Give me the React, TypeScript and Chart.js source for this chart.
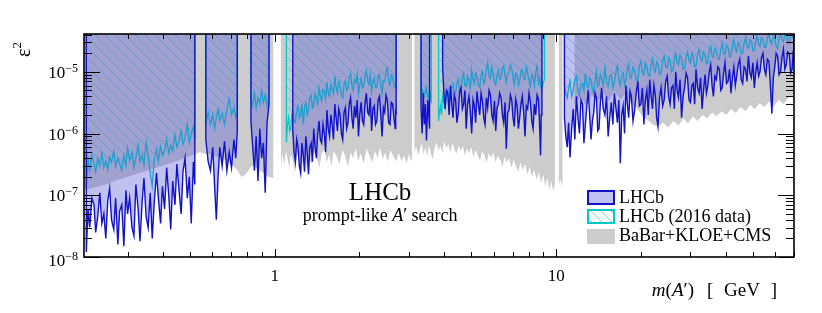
import React, { useEffect, useRef } from 'react';
import { Chart, registerables } from 'chart.js';

Chart.register(...registerables);

// ---------- axis ranges & ticks ----------
const X_MIN = 0.21;
const X_MAX = 70;
const Y_MIN = 1e-8;
const Y_MAX = 4.1e-5;
const X_MAJOR = [1, 10];
const X_MAJOR_LABELS = ['1', '10'];
const Y_MAJOR = [1e-8, 1e-7, 1e-6, 1e-5];
const Y_MAJOR_EXP = ['\u22128', '\u22127', '\u22126', '\u22125'];
const LEGEND_LABELS = ['LHCb', 'LHCb (2016 data)', 'BaBar+KLOE+CMS'];

// values below: [mass (GeV), epsilon^2 in units of 1e-7]
const UNIT = 1e-7;
const EDGE = 410; // top of the plot (4.1e-5)
type Pt = [number, number | null];

// ---------- LHCb (this result) ----------
const lhcbSegments: Pt[][] = [
  [[0.214, EDGE], [0.214, 0.12], [0.217, 0.6], [0.22, 0.3], [0.224, 0.9], [0.228, 0.7], [0.231, 0.25], [0.235, 0.45], [0.239, 1.1], [0.243, 0.35], [0.247, 0.5], [0.251, 0.2], [0.255, 0.8], [0.259, 1.3], [0.263, 0.4], [0.268, 0.28], [0.272, 0.9], [0.277, 0.16], [0.281, 0.55], [0.286, 0.7], [0.291, 0.15], [0.296, 1.2], [0.3, 0.5], [0.305, 0.9], [0.311, 0.3], [0.316, 0.22], [0.321, 1.5], [0.327, 0.6], [0.332, 0.18], [0.338, 0.8], [0.343, 1.9], [0.349, 0.45], [0.355, 0.3], [0.361, 1.1], [0.367, 0.2], [0.373, 0.75], [0.38, 2.3], [0.386, 0.9], [0.393, 0.35], [0.399, 1.4], [0.406, 0.6], [0.413, 2.8], [0.42, 1.0], [0.427, 0.28], [0.434, 1.7], [0.442, 0.7], [0.449, 3.2], [0.457, 1.2], [0.465, 0.5], [0.472, 2.4], [0.48, 4.0], [0.489, 0.9], [0.497, 2.0], [0.505, 0.35], [0.514, 3.5], [0.52, 1.5], [0.52, EDGE]],
  [[0.569, EDGE], [0.569, 8.0], [0.58, 3.5], [0.591, 2.5], [0.602, 6.0], [0.611, 1.5], [0.62, 0.4], [0.629, 2.0], [0.638, 6.0], [0.65, 3.0], [0.663, 7.5], [0.676, 2.5], [0.689, 5.0], [0.702, 2.8], [0.716, 8.0], [0.727, 4.0], [0.736, 11.0], [0.736, EDGE]],
  [[0.823, EDGE], [0.823, 16], [0.835, 6], [0.847, 2.5], [0.859, 9], [0.872, 1.7], [0.885, 12], [0.898, 4], [0.911, 7], [0.925, 1.1], [0.939, 15], [0.954, 30], [0.954, EDGE]],
  [[1.159, EDGE], [1.159, 11], [1.171, 5], [1.184, 3.5], [1.197, 8], [1.21, 6], [1.223, 3], [1.236, 2.3], [1.249, 7], [1.263, 4.5], [1.276, 2.4], [1.29, 9], [1.304, 5], [1.318, 2.2], [1.332, 6], [1.347, 7], [1.361, 3.5], [1.376, 12], [1.391, 6], [1.406, 4], [1.421, 10], [1.437, 16], [1.452, 8], [1.468, 7], [1.484, 14], [1.5, 10], [1.516, 5], [1.533, 24], [1.549, 12], [1.566, 9], [1.583, 20], [1.6, 14], [1.617, 8], [1.635, 30], [1.652, 18], [1.67, 11], [1.688, 25], [1.707, 20], [1.725, 10], [1.744, 8], [1.763, 22], [1.782, 26], [1.801, 12], [1.821, 15], [1.84, 30], [1.86, 38], [1.88, 18], [1.9, 12], [1.921, 28], [1.942, 18], [1.963, 35], [1.984, 9], [2.005, 20], [2.027, 32], [2.049, 16], [2.071, 14], [2.093, 30], [2.116, 45], [2.139, 22], [2.162, 20], [2.185, 38], [2.209, 11], [2.233, 25], [2.257, 28], [2.281, 14], [2.306, 16], [2.331, 35], [2.356, 40], [2.381, 20], [2.407, 9], [2.433, 26], [2.459, 22], [2.485, 42], [2.512, 35], [2.539, 15], [2.567, 14], [2.595, 32], [2.623, 30], [2.651, 18], [2.68, 12], [2.69, 25], [2.7, 20], [2.7, EDGE]],
  [[3.31, EDGE], [3.31, 27], [3.34, 10], [3.37, 45], [3.4, 14], [3.43, 30], [3.46, 7.7], [3.5, 35], [3.55, 12], [3.55, EDGE]],
  [[3.95, EDGE], [3.95, 120], [3.99, 45], [4.03, 25], [4.075, 50], [4.12, 45], [4.165, 20], [4.21, 60], [4.255, 30], [4.3, 18], [4.345, 42], [4.39, 35], [4.44, 15], [4.49, 22], [4.54, 48], [4.59, 55], [4.64, 25], [4.69, 30], [4.74, 50], [4.79, 12], [4.845, 30], [4.9, 40], [4.955, 22], [5.01, 10], [5.065, 35], [5.12, 28], [5.175, 15], [5.23, 48], [5.29, 30], [5.35, 20], [5.41, 45], [5.47, 33], [5.53, 18], [5.59, 14], [5.65, 38], [5.71, 26], [5.775, 50], [5.84, 42], [5.905, 20], [5.97, 16], [6.035, 34], [6.1, 11], [6.165, 26], [6.23, 30], [6.3, 45], [6.37, 38], [6.44, 20], [6.51, 15], [6.58, 32], [6.65, 5.7], [6.725, 22], [6.8, 24], [6.875, 42], [6.95, 35], [7.025, 18], [7.1, 13], [7.18, 36], [7.26, 28], [7.34, 12], [7.42, 18], [7.5, 30], [7.58, 40], [7.665, 22], [7.75, 9], [7.835, 28], [7.92, 25], [8.01, 45], [8.1, 32], [8.19, 16], [8.28, 12], [8.37, 30], [8.46, 20], [8.555, 42], [8.65, 36], [8.725, 15], [8.8, 4.4], [8.85, 20], [8.9, 28], [8.9, EDGE]],
  [[10.7, EDGE], [10.7, 18], [10.82, 9], [10.95, 6], [11.07, 15], [11.2, 4.1], [11.35, 12], [11.5, 25], [11.65, 8], [11.8, 40], [11.95, 18], [12.1, 10], [12.25, 35], [12.4, 30], [12.55, 7], [12.7, 14], [12.85, 28], [13.0, 50], [13.15, 20], [13.3, 8], [13.45, 16], [13.6, 22], [13.75, 45], [13.9, 38], [14.05, 11], [14.2, 12], [14.35, 30], [14.5, 55], [14.7, 25], [14.9, 20], [15.1, 40], [15.3, 9], [15.5, 18], [15.7, 32], [15.9, 14], [16.1, 45], [16.3, 26], [16.5, 15], [16.7, 35], [16.9, 3.3], [17.1, 20], [17.3, 28], [17.5, 10], [17.7, 60], [17.9, 30], [18.1, 18], [18.3, 48], [18.5, 40], [18.75, 16], [19.0, 24], [19.25, 45], [19.5, 70], [19.75, 28], [20.0, 30], [20.25, 55], [20.5, 14], [20.75, 35], [21.0, 50], [21.25, 20], [21.5, 75], [21.75, 40], [22.0, 25], [22.25, 60], [22.5, 42], [22.75, 18], [23.0, 13], [23.3, 38], [23.6, 55], [23.9, 28], [24.2, 35], [24.5, 70], [24.8, 85], [25.1, 40], [25.4, 30], [25.7, 55], [26.0, 60], [26.3, 25], [26.6, 100], [26.9, 50], [27.2, 38], [27.55, 75], [27.9, 18], [28.25, 40], [28.6, 55], [28.95, 95], [29.3, 80], [29.65, 35], [30.0, 32], [30.35, 60], [30.7, 65], [31.05, 30], [31.4, 110], [31.8, 55], [32.2, 45], [32.6, 80], [33.0, 25], [33.4, 50], [33.8, 90], [34.2, 45], [34.6, 60], [35.0, 100], [35.4, 130], [35.8, 60], [36.2, 40], [36.65, 85], [37.1, 75], [37.55, 120], [38.0, 110], [38.45, 50], [38.9, 55], [39.35, 95], [39.8, 140], [40.3, 65], [40.8, 70], [41.3, 110], [41.8, 45], [42.3, 80], [42.8, 120], [43.3, 60], [43.8, 85], [44.35, 130], [44.9, 160], [45.45, 75], [46.0, 65], [46.55, 120], [47.1, 110], [47.65, 70], [48.2, 180], [48.8, 95], [49.4, 80], [50.0, 140], [50.6, 55], [51.2, 100], [51.8, 140], [52.4, 85], [53.0, 100], [53.65, 170], [54.3, 200], [54.95, 110], [55.6, 90], [56.3, 160], [57.0, 150], [57.7, 60], [58.4, 21], [59.1, 80], [59.8, 120], [60.5, 200], [61.2, 180], [61.95, 90], [62.7, 100], [63.45, 170], [64.2, 230], [64.95, 110], [65.7, 130], [66.5, 210], [67.3, 200], [68.1, 95], [68.9, 110], [69.45, 190], [70.0, 160], [70.0, EDGE]],
];

// ---------- LHCb (2016 data) ----------
const lhcb2016Segments: Pt[][] = [
  [[0.214, EDGE], [0.214, 1.3], [0.217, 3.8], [0.22, 2.5], [0.224, 4.5], [0.228, 3.2], [0.231, 2.4], [0.235, 3.9], [0.239, 3.0], [0.243, 4.8], [0.247, 2.8], [0.251, 3.6], [0.255, 2.6], [0.259, 4.2], [0.263, 3.4], [0.268, 5.2], [0.272, 2.9], [0.277, 4.0], [0.281, 3.3], [0.286, 2.5], [0.291, 4.4], [0.296, 3.0], [0.3, 5.8], [0.305, 3.6], [0.311, 4.9], [0.316, 2.8], [0.321, 4.0], [0.327, 6.5], [0.332, 3.5], [0.338, 4.5], [0.343, 3.1], [0.349, 7.2], [0.355, 4.2], [0.361, 2.3], [0.367, 1.4], [0.373, 3.8], [0.38, 5.5], [0.386, 3.6], [0.393, 6.2], [0.399, 4.4], [0.406, 5.3], [0.413, 8.0], [0.42, 4.8], [0.427, 6.5], [0.434, 5.2], [0.442, 9.5], [0.449, 6.0], [0.457, 7.5], [0.465, 11.0], [0.472, 6.8], [0.48, 8.5], [0.489, 14.0], [0.497, 7.0], [0.505, 10.0], [0.514, 13.0], [0.52, 8.0], [0.52, EDGE]],
  [[0.569, EDGE], [0.569, 15], [0.58, 22], [0.591, 14], [0.602, 20], [0.611, 12], [0.62, 18], [0.629, 25], [0.638, 16], [0.65, 21], [0.663, 14], [0.676, 24], [0.689, 37], [0.702, 20], [0.716, 26], [0.727, 18], [0.736, 22], [0.736, EDGE]],
  [[0.823, EDGE], [0.823, 35], [0.835, 28], [0.847, 45], [0.859, 26], [0.872, 38], [0.885, 30], [0.898, 50], [0.911, 32], [0.925, 42], [0.939, 28], [0.954, 40], [0.954, EDGE]],
  [[1.1, EDGE], [1.1, 7.2], [1.11, 14], [1.12, 18], [1.13, 11], [1.14, 12], [1.15, 20], [1.159, 22], [1.171, 16], [1.184, 15], [1.197, 24], [1.21, 28], [1.223, 18], [1.236, 20], [1.249, 30], [1.263, 14], [1.276, 26], [1.29, 32], [1.304, 20], [1.318, 24], [1.332, 38], [1.347, 42], [1.361, 26], [1.376, 28], [1.391, 45], [1.406, 36], [1.421, 30], [1.437, 55], [1.452, 40], [1.468, 34], [1.484, 52], [1.5, 48], [1.516, 36], [1.533, 68], [1.549, 45], [1.566, 40], [1.583, 62], [1.6, 52], [1.617, 44], [1.635, 85], [1.652, 55], [1.67, 46], [1.688, 70], [1.707, 60], [1.725, 42], [1.744, 38], [1.763, 62], [1.782, 72], [1.801, 50], [1.821, 55], [1.84, 80], [1.86, 95], [1.88, 60], [1.9, 50], [1.921, 75], [1.942, 66], [1.963, 90], [1.984, 44], [2.005, 62], [2.027, 78], [2.049, 55], [2.071, 58], [2.093, 85], [2.116, 105], [2.139, 70], [2.162, 62], [2.185, 90], [2.209, 48], [2.233, 68], [2.257, 80], [2.281, 55], [2.306, 56], [2.331, 85], [2.356, 90], [2.381, 62], [2.407, 45], [2.433, 72], [2.459, 70], [2.485, 100], [2.512, 115], [2.539, 70], [2.567, 60], [2.595, 90], [2.623, 82], [2.651, 60], [2.68, 55], [2.69, 75], [2.7, 65], [2.7, EDGE]],
  [[3.31, EDGE], [3.31, 35], [3.35, 50], [3.4, 40], [3.45, 56], [3.5, 38], [3.55, 48], [3.6, 31], [3.6, EDGE]],
  [[3.82, EDGE], [3.82, 16], [3.85, 22], [3.88, 28], [3.915, 20], [3.95, 40], [3.99, 32], [4.03, 26], [4.075, 42], [4.12, 50], [4.165, 34], [4.21, 38], [4.255, 55], [4.3, 62], [4.345, 44], [4.39, 45], [4.44, 65], [4.49, 75], [4.54, 50], [4.59, 52], [4.64, 80], [4.69, 95], [4.74, 60], [4.79, 58], [4.845, 85], [4.9, 70], [4.955, 55], [5.01, 110], [5.065, 75], [5.12, 64], [5.175, 95], [5.23, 85], [5.29, 60], [5.35, 56], [5.41, 90], [5.47, 100], [5.53, 65], [5.59, 72], [5.65, 110], [5.71, 140], [5.775, 85], [5.84, 78], [5.905, 120], [5.97, 92], [6.035, 70], [6.1, 62], [6.165, 90], [6.23, 105], [6.3, 75], [6.37, 80], [6.44, 115], [6.51, 125], [6.58, 85], [6.65, 68], [6.725, 95], [6.8, 98], [6.875, 130], [6.95, 115], [7.025, 80], [7.1, 62], [7.18, 95], [7.26, 88], [7.34, 60], [7.42, 70], [7.5, 105], [7.58, 110], [7.665, 78], [7.75, 75], [7.835, 120], [7.92, 96], [8.01, 70], [8.1, 58], [8.19, 90], [8.28, 84], [8.37, 60], [8.46, 100], [8.555, 125], [8.65, 66], [8.725, 80], [8.8, 60], [8.9, 52], [9.0, 68], [9.09, 75], [9.09, EDGE]],
  [[10.7, EDGE], [10.7, 60], [10.82, 45], [10.95, 38], [11.07, 55], [11.2, 70], [11.35, 40], [11.5, 50], [11.65, 75], [11.8, 85], [11.95, 48], [12.1, 42], [12.25, 62], [12.4, 65], [12.55, 50], [12.7, 95], [12.85, 60], [13.0, 55], [13.15, 80], [13.3, 75], [13.45, 52], [13.6, 45], [13.75, 70], [13.9, 100], [14.05, 58], [14.2, 62], [14.35, 90], [14.5, 80], [14.7, 60], [14.9, 115], [15.1, 70], [15.3, 58], [15.5, 85], [15.7, 90], [15.9, 55], [16.1, 68], [16.3, 100], [16.5, 125], [16.7, 72], [16.9, 60], [17.1, 88], [17.3, 95], [17.5, 62], [17.7, 75], [17.9, 110], [18.1, 135], [18.3, 78], [18.5, 80], [18.75, 120], [19.0, 105], [19.25, 75], [19.5, 70], [19.75, 125], [20.0, 150], [20.25, 95], [20.5, 90], [20.75, 140], [21.0, 120], [21.25, 88], [21.5, 85], [21.75, 130], [22.0, 165], [22.25, 110], [22.5, 100], [22.75, 145], [23.0, 130], [23.3, 90], [23.6, 95], [23.9, 150], [24.2, 180], [24.5, 120], [24.8, 115], [25.1, 170], [25.4, 150], [25.7, 100], [26.0, 105], [26.3, 160], [26.6, 200], [26.9, 140], [27.2, 130], [27.55, 190], [27.9, 165], [28.25, 110], [28.6, 115], [28.95, 175], [29.3, 210], [29.65, 150], [30.0, 140], [30.35, 200], [30.7, 175], [31.05, 120], [31.4, 125], [31.8, 190], [32.2, 230], [32.6, 165], [33.0, 150], [33.4, 210], [33.8, 190], [34.2, 135], [34.6, 140], [35.0, 220], [35.4, 260], [35.8, 180], [36.2, 170], [36.65, 240], [37.1, 220], [37.55, 160], [38.0, 160], [38.45, 230], [38.9, 290], [39.35, 200], [39.8, 190], [40.3, 270], [40.8, 250], [41.3, 175], [41.8, 180], [42.3, 260], [42.8, 330], [43.3, 230], [43.8, 210], [44.35, 300], [44.9, 270], [45.45, 195], [46.0, 200], [46.55, 290], [47.1, 360], [47.65, 260], [48.2, 240], [48.8, 330], [49.4, 310], [50.0, 220], [50.6, 220], [51.2, 320], [51.8, 390], [52.4, 280], [53.0, 260], [53.65, 360], [54.3, 340], [54.95, 250], [55.6, 250], [56.3, 350], [57.0, 410], [57.7, 300], [58.4, 280], [59.1, 380], [59.8, 360], [60.5, 260], [61.2, 240], [61.95, 350], [62.7, 420], [63.45, 330], [64.2, 310], [64.95, 400], [65.7, 390], [66.5, 300], [67.3, 290], [68.1, 380], [68.9, 410], [69.45, 350], [70.0, 340], [70.0, EDGE]],
];

// ---------- BaBar + KLOE + CMS (lower edge of excluded region) ----------
const otherLimits: Pt[] = [
  [0.21, 1.2], [0.23, 1.35], [0.25, 1.5], [0.27, 1.7], [0.3, 2.0], [0.33, 2.3], [0.36, 2.6], [0.4, 3.0], [0.44, 3.5], [0.48, 4.0], [0.52, 4.6], [0.54, 5.0], [0.56, 4.8], [0.58, 4.6], [0.6, 4.5], [0.63, 4.2], [0.66, 3.8], [0.7, 3.2], [0.74, 2.5], [0.76, 2.0], [0.78, 2.1], [0.8, 2.4], [0.83, 3.0], [0.86, 2.8], [0.89, 2.5], [0.92, 2.2], [0.95, 2.0], [0.99, 1.9], [1.0, null],
  [1.05, 2.6], [1.065, 4.8], [1.08, 3.0], [1.095, 5.2], [1.11, 4.0], [1.125, 2.8], [1.14, 4.6], [1.16, 3.6], [1.18, 2.3], [1.2, 4.4], [1.22, 5.0], [1.24, 2.2], [1.26, 3.8], [1.28, 4.6], [1.3, 2.6], [1.32, 4.2], [1.35, 3.2], [1.38, 5.0], [1.41, 4.0], [1.44, 2.8], [1.47, 4.8], [1.5, 5.5], [1.53, 3.4], [1.56, 4.6], [1.59, 3.0], [1.62, 5.2], [1.66, 4.2], [1.7, 3.2], [1.74, 5.4], [1.78, 4.4], [1.82, 2.9], [1.86, 5.0], [1.9, 4.0], [1.94, 5.8], [1.98, 3.6], [2.02, 4.8], [2.07, 3.3], [2.12, 5.6], [2.17, 4.4], [2.22, 3.4], [2.27, 5.2], [2.32, 4.0], [2.37, 6.0], [2.42, 3.8], [2.47, 5.0], [2.52, 3.5], [2.58, 5.4], [2.64, 4.2], [2.7, 3.6], [2.76, 4.8], [2.82, 3.6], [2.88, 4.4], [2.94, 3.3], [3.0, 4.6], [3.05, 3.6], [3.08, 4.0], [3.095, null],
  [3.13, 4.8], [3.18, 6.2], [3.23, 4.4], [3.28, 5.6], [3.33, 7.0], [3.38, 4.6], [3.43, 6.0], [3.48, 4.2], [3.53, 6.6], [3.58, 5.0], [3.64, 3.8], [3.7, 5.8], [3.76, 7.2], [3.82, 5.2], [3.88, 6.4], [3.94, 4.8], [4.0, 7.6], [4.07, 5.8], [4.14, 6.8], [4.21, 5.0], [4.28, 7.0], [4.35, 5.6], [4.42, 4.6], [4.5, 6.4], [4.58, 5.2], [4.66, 6.2], [4.74, 4.4], [4.82, 5.8], [4.9, 4.8], [4.99, 6.0], [5.08, 4.2], [5.17, 5.4], [5.26, 4.6], [5.36, 3.6], [5.46, 5.2], [5.56, 4.4], [5.66, 3.4], [5.76, 4.8], [5.87, 4.0], [5.98, 5.0], [6.09, 3.4], [6.2, 4.4], [6.32, 3.8], [6.44, 2.9], [6.56, 4.2], [6.68, 3.4], [6.8, 4.0], [6.93, 2.8], [7.06, 3.8], [7.19, 3.0], [7.33, 2.4], [7.47, 3.4], [7.61, 2.6], [7.75, 3.2], [7.9, 2.2], [8.05, 2.9], [8.2, 2.0], [8.36, 2.6], [8.52, 1.8], [8.68, 2.4], [8.84, 1.6], [9.0, 2.2], [9.15, 1.4], [9.3, 1.9], [9.45, 1.25], [9.6, 1.7], [9.75, 1.2], [9.9, 1.5], [9.96, null],
  [10.2, 1.4], [10.35, 1.8], [10.55, 1.35], [11.0, null],
  [11.6, 30], [12.2, 38], [12.8, 28], [13.4, 42], [14.0, 32], [14.7, 45], [15.4, 34], [16.1, 48], [16.9, 36], [17.7, 44], [18.5, 30], [19.3, 26], [20.1, 20], [21.0, 17], [22.0, 14], [23.0, 13], [24.0, 15], [25.0, 12.5], [26.1, 16], [27.2, 13.5], [28.3, 17.5], [29.4, 14.5], [30.6, 19], [31.8, 16], [33.1, 20], [34.4, 17.5], [35.8, 22], [37.2, 19], [38.7, 23], [40.2, 20], [41.8, 25], [43.5, 21.5], [45.2, 27], [47.0, 23], [48.9, 29], [50.8, 25], [52.8, 31], [54.9, 27], [57.1, 33], [59.4, 28], [61.8, 35], [64.3, 30], [66.9, 38], [70.0, 40],
];

// ---------- styles ----------
const SERIF = '"Liberation Serif", "Times New Roman", "DejaVu Serif", serif';
const GRAY = '#cccccc';
const LHCB_LINE = '#1212c8';
const LHCB_FILL = 'rgba(86,86,215,0.37)';
const LHCB_LEGEND_FILL = '#c2c2f2';
const CYAN = '#00c8c8';
const HATCH = 'rgba(0,190,230,0.5)';

type XY = { x: number; y: number | null };

function segmentsToPoints(segs: Pt[][]): XY[] {
  const out: XY[] = [];
  segs.forEach((seg, i) => {
    if (i > 0) out.push({ x: seg[0][0], y: null });
    seg.forEach(([m, v]) => out.push({ x: m, y: v === null ? null : v * UNIT }));
  });
  return out;
}

function listToPoints(list: Pt[]): XY[] {
  return list.map(([m, v]) => ({ x: m, y: v === null ? null : v * UNIT }));
}

function makeHatch(ctx: CanvasRenderingContext2D, color: string, bg?: string) {
  const s = 10;
  const c = document.createElement('canvas');
  c.width = s;
  c.height = s;
  const g = c.getContext('2d')!;
  if (bg) {
    g.fillStyle = bg;
    g.fillRect(0, 0, s, s);
  }
  g.strokeStyle = color;
  g.lineWidth = 1;
  g.beginPath();
  g.moveTo(0, 0);
  g.lineTo(s, s);
  g.moveTo(-2, s - 2);
  g.lineTo(2, s + 2);
  g.moveTo(s - 2, -2);
  g.lineTo(s + 2, 2);
  g.stroke();
  return ctx.createPattern(c, 'repeat')!;
}

type Run = { t: string; f: string; dy?: number };
function runsWidth(ctx: CanvasRenderingContext2D, runs: Run[]) {
  let total = 0;
  for (const r of runs) {
    ctx.font = r.f;
    total += ctx.measureText(r.t).width;
  }
  return total;
}
function drawRuns(ctx: CanvasRenderingContext2D, runs: Run[], x: number, y: number, align: 'left' | 'center' | 'right') {
  const total = runsWidth(ctx, runs);
  let cx = align === 'left' ? x : align === 'center' ? x - total / 2 : x - total;
  ctx.textAlign = 'left';
  for (const r of runs) {
    ctx.font = r.f;
    ctx.fillText(r.t, cx, y + (r.dy || 0));
    cx += ctx.measureText(r.t).width;
  }
}

const decorPlugin = {
  id: 'decor',
  afterDraw(chart: any) {
    const { ctx, chartArea: a, scales } = chart;
    const xs = scales.x;
    const ys = scales.y;
    ctx.save();
    ctx.strokeStyle = '#000';
    ctx.fillStyle = '#000';

    const seg = (x1: number, y1: number, x2: number, y2: number) => {
      ctx.beginPath();
      ctx.moveTo(x1, y1);
      ctx.lineTo(x2, y2);
      ctx.stroke();
    };

    // y ticks (left and right)
    ctx.lineWidth = 1;
    for (let e = -9; e <= -4; e++) {
      for (let k = 1; k <= 9; k++) {
        const v = k * Math.pow(10, e);
        if (v < Y_MIN * 0.999 || v > Y_MAX) continue;
        const py = Math.round(ys.getPixelForValue(v)) + 0.5;
        const len = k === 1 ? 16 : 8;
        seg(a.left, py, a.left + len, py);
        seg(a.right, py, a.right - len, py);
      }
    }
    // x ticks (bottom and top)
    for (let e = -1; e <= 1; e++) {
      for (let k = 1; k <= 9; k++) {
        const v = k * Math.pow(10, e);
        if (v < X_MIN || v > X_MAX) continue;
        const px = Math.round(xs.getPixelForValue(v)) + 0.5;
        const len = k === 1 ? 8 : 5;
        seg(px, a.bottom, px, a.bottom - len);
        seg(px, a.top, px, a.top + len);
      }
    }
    // frame
    ctx.lineWidth = 1.6;
    ctx.strokeRect(a.left, a.top, a.right - a.left, a.bottom - a.top);

    // y labels
    ctx.textBaseline = 'alphabetic';
    Y_MAJOR.forEach((v, i) => {
      const py = ys.getPixelForValue(v);
      const base = i === 0 ? py + 9 : py + 6;
      ctx.font = `12px ${SERIF}`;
      const ew = ctx.measureText(Y_MAJOR_EXP[i]).width;
      ctx.font = `17px ${SERIF}`;
      const tw = ctx.measureText('10').width;
      const right = a.left - 6;
      ctx.textAlign = 'left';
      ctx.fillText('10', right - ew - tw, base);
      ctx.font = `12px ${SERIF}`;
      ctx.fillText(Y_MAJOR_EXP[i], right - ew, base - 6);
    });
    // x labels
    ctx.font = `17px ${SERIF}`;
    ctx.textAlign = 'center';
    X_MAJOR.forEach((v, i) => {
      const px = xs.getPixelForValue(v);
      ctx.fillText(X_MAJOR_LABELS[i], px, a.bottom + 24);
    });

    // x title
    const fT = `19px ${SERIF}`;
    const fTi = `italic 19px ${SERIF}`;
    const tBase = a.bottom + 39;
    drawRuns(
      ctx,
      [
        { t: 'm', f: fTi },
        { t: '(', f: fT },
        { t: 'A', f: fTi },
        { t: '\u2032', f: fT },
        { t: ')', f: fT },
      ],
      a.right - 100,
      tBase,
      'right'
    );
    ctx.font = fT;
    ctx.textAlign = 'left';
    ctx.fillText('[', a.right - 87, tBase);
    ctx.textAlign = 'center';
    ctx.fillText('GeV', a.right - 52, tBase);
    ctx.textAlign = 'right';
    ctx.fillText(']', a.right - 17, tBase);

    // y title (rotated)
    ctx.save();
    ctx.translate(30, 57);
    ctx.rotate(-Math.PI / 2);
    drawRuns(
      ctx,
      [
        { t: '\u03b5', f: `20px ${SERIF}` },
        { t: '2', f: `13px ${SERIF}`, dy: -9 },
      ],
      0,
      0,
      'left'
    );
    ctx.restore();

    // LHCb label
    const cx = xs.getPixelForValue(2.2) + 9;
    ctx.font = `25px ${SERIF}`;
    ctx.textAlign = 'center';
    ctx.fillText('LHCb', cx, 200);
    const fS = `18px ${SERIF}`;
    const fSi = `italic 18px ${SERIF}`;
    drawRuns(
      ctx,
      [
        { t: 'prompt-like ', f: fS },
        { t: 'A', f: fSi },
        { t: '\u2032', f: fS },
        { t: ' search', f: fS },
      ],
      cx,
      221,
      'center'
    );

    // legend
    const bx = 588;
    const bw = 26;
    const bh = 13;
    const rows = [191, 210, 229];
    ctx.fillStyle = LHCB_LEGEND_FILL;
    ctx.fillRect(bx, rows[0], bw, bh);
    ctx.strokeStyle = LHCB_LINE;
    ctx.lineWidth = 2;
    ctx.strokeRect(bx, rows[0], bw, bh);
    ctx.fillStyle = makeHatch(ctx, 'rgba(0,200,220,0.55)', '#ffffff');
    ctx.fillRect(bx, rows[1], bw, bh);
    ctx.strokeStyle = CYAN;
    ctx.strokeRect(bx, rows[1], bw, bh);
    ctx.fillStyle = GRAY;
    ctx.fillRect(bx - 1, rows[2], bw + 2, bh + 2);

    ctx.fillStyle = '#000';
    ctx.font = `18px ${SERIF}`;
    ctx.textAlign = 'left';
    ctx.textBaseline = 'middle';
    LEGEND_LABELS.forEach((t, i) => {
      ctx.fillText(t, bx + bw + 5, rows[i] + bh / 2 + 1);
    });
    ctx.restore();
  },
};

export default function App() {
  const ref = useRef<HTMLCanvasElement | null>(null);

  useEffect(() => {
    const canvas = ref.current;
    if (!canvas) return;
    const ctx = canvas.getContext('2d')!;
    const hatch = makeHatch(ctx, HATCH);

    const chart = new Chart(canvas, {
      type: 'line',
      data: {
        datasets: [
          {
            label: LEGEND_LABELS[0],
            data: segmentsToPoints(lhcbSegments) as any,
            borderColor: LHCB_LINE,
            borderWidth: 1.4,
            backgroundColor: LHCB_FILL,
            fill: 'end',
            order: 1,
          },
          {
            label: LEGEND_LABELS[1],
            data: segmentsToPoints(lhcb2016Segments) as any,
            borderColor: CYAN,
            borderWidth: 1.3,
            backgroundColor: hatch as any,
            fill: 'end',
            order: 2,
          },
          {
            label: LEGEND_LABELS[2],
            data: listToPoints(otherLimits) as any,
            borderColor: GRAY,
            borderWidth: 0,
            backgroundColor: GRAY,
            fill: 'end',
            order: 3,
          },
        ],
      },
      options: {
        responsive: false,
        animation: false,
        devicePixelRatio: 1,
        spanGaps: false,
        layout: { padding: { left: 84, right: 28, top: 34, bottom: 56 } },
        elements: {
          point: { radius: 0, hoverRadius: 0 },
          line: { tension: 0 },
        },
        scales: {
          x: { type: 'logarithmic', min: X_MIN, max: X_MAX, display: false },
          y: { type: 'logarithmic', min: Y_MIN, max: Y_MAX, display: false },
        },
        plugins: {
          legend: { display: false },
          tooltip: { enabled: false },
        },
        events: [],
      },
      plugins: [decorPlugin],
    });
    return () => chart.destroy();
  }, []);

  return (
    <div style={{ position: 'fixed', left: 0, top: 0, width: 822, height: 313, background: '#fff' }}>
      <canvas ref={ref} width={822} height={313} style={{ display: 'block' }} />
    </div>
  );
}
